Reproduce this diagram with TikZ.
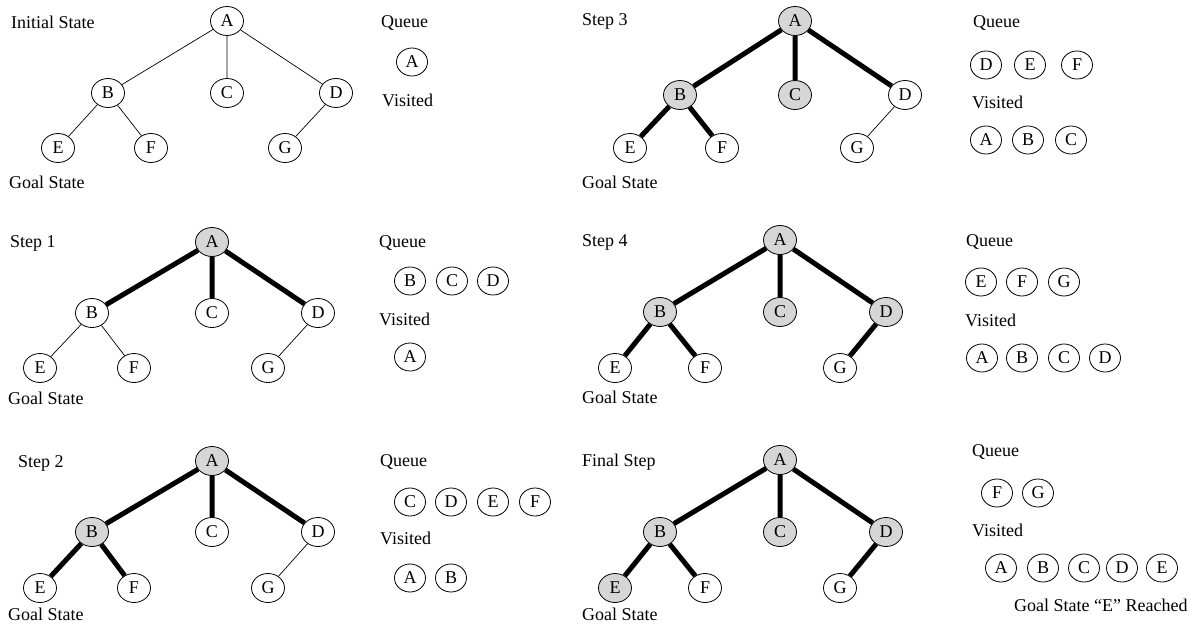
\documentclass[tikz,border=0pt]{standalone}
\usepackage{fontspec}
\setmainfont{Liberation Serif}
\usetikzlibrary{shapes.geometric}
\begin{document}
\begin{tikzpicture}[x=1pt,y=-1pt,
  every node/.style={font=\fontsize{18}{21}\selectfont},
  lbl/.style={anchor=west,inner sep=0pt},
  tn/.style={ellipse,draw,line width=0.8pt,fill=white,inner sep=0pt,minimum width=33pt,minimum height=29pt},
  seen/.style={fill=black!16},
  qn/.style={ellipse,draw,line width=0.8pt,inner sep=0pt,minimum width=31pt,minimum height=28pt},
  lt/.style={line width=0.7pt},
  hv/.style={line width=5pt}]
\useasboundingbox (0,0) rectangle (1194,624);

% ---------- Initial State ----------
\node[lbl] (l0) at (11,22) {Initial State};
\node[lbl] (g0) at (9,182) {Goal State};
\node[tn] (a0) at (227,21) {A};
\node[tn] (b0) at (108,93) {B};
\node[tn] (c0) at (227,93) {C};
\node[tn] (d0) at (336,93) {D};
\node[tn] (e0) at (58,148) {E};
\node[tn] (f0) at (151,148) {F};
\node[tn] (h0) at (285,148) {G};
\draw[lt] (a0)--(b0) (a0)--(c0) (a0)--(d0) (b0)--(e0) (b0)--(f0) (d0)--(h0);
\node[lbl] (q0) at (381,23) {Queue};
\node[qn] (q0a) at (412,62) {A};
\node[lbl] (v0) at (382,100) {Visited};

% ---------- Step 1 ----------
\node[lbl] (l1) at (10,243) {Step 1};
\node[lbl] (g1) at (8,398) {Goal State};
\node[tn,seen] (a1) at (212,242) {A};
\node[tn] (b1) at (92,313) {B};
\node[tn] (c1) at (212,313) {C};
\node[tn] (d1) at (318,313) {D};
\node[tn] (e1) at (40,368) {E};
\node[tn] (f1) at (134,368) {F};
\node[tn] (h1) at (268,368) {G};
\draw[hv] (a1)--(b1) (a1)--(c1) (a1)--(d1);
\draw[lt] (b1)--(e1) (b1)--(f1) (d1)--(h1);
\node[lbl] (q1) at (379,243) {Queue};
\node[qn] (q1b) at (410,281) {B};
\node[qn] (q1c) at (452,281) {C};
\node[qn] (q1d) at (493,281) {D};
\node[lbl] (v1) at (379,319) {Visited};
\node[qn] (v1a) at (410,357) {A};

% ---------- Step 2 ----------
\node[lbl] (l2) at (18,463) {Step 2};
\node[lbl] (g2) at (8,614) {Goal State};
\node[tn,seen] (a2) at (212,461) {A};
\node[tn,seen] (b2) at (92,532) {B};
\node[tn] (c2) at (212,532) {C};
\node[tn] (d2) at (318,532) {D};
\node[tn] (e2) at (40,588) {E};
\node[tn] (f2) at (134,588) {F};
\node[tn] (h2) at (268,588) {G};
\draw[hv] (a2)--(b2) (a2)--(c2) (a2)--(d2) (b2)--(e2) (b2)--(f2);
\draw[lt] (d2)--(h2);
\node[lbl] (q2) at (380,462) {Queue};
\node[qn] (q2c) at (410,502) {C};
\node[qn] (q2d) at (451,502) {D};
\node[qn] (q2e) at (493,502) {E};
\node[qn] (q2f) at (535,502) {F};
\node[lbl] (v2) at (380,538) {Visited};
\node[qn] (v2a) at (410,578) {A};
\node[qn] (v2b) at (451,578) {B};

% ---------- Step 3 ----------
\node[lbl] (l3) at (582,21) {Step 3};
\node[lbl] (g3) at (582,182) {Goal State};
\node[tn,seen] (a3) at (795,21) {A};
\node[tn,seen] (b3) at (680,95) {B};
\node[tn,seen] (c3) at (795,95) {C};
\node[tn] (d3) at (905,95) {D};
\node[tn] (e3) at (630,148) {E};
\node[tn] (f3) at (722,148) {F};
\node[tn] (h3) at (857,148) {G};
\draw[hv] (a3)--(b3) (a3)--(c3) (a3)--(d3) (b3)--(e3) (b3)--(f3);
\draw[lt] (d3)--(h3);
\node[lbl] (q3) at (973,23) {Queue};
\node[qn] (q3d) at (986,65) {D};
\node[qn] (q3e) at (1030,65) {E};
\node[qn] (q3f) at (1077,65) {F};
\node[lbl] (v3) at (972,102) {Visited};
\node[qn] (v3a) at (986,140) {A};
\node[qn] (v3b) at (1028,140) {B};
\node[qn] (v3c) at (1071,140) {C};

% ---------- Step 4 ----------
\node[lbl] (l4) at (582,242) {Step 4};
\node[lbl] (g4) at (582,397) {Goal State};
\node[tn,seen] (a4) at (780,240) {A};
\node[tn,seen] (b4) at (660,312) {B};
\node[tn,seen] (c4) at (780,312) {C};
\node[tn,seen] (d4) at (886,312) {D};
\node[tn] (e4) at (615,368) {E};
\node[tn] (f4) at (705,368) {F};
\node[tn] (h4) at (840,368) {G};
\draw[hv] (a4)--(b4) (a4)--(c4) (a4)--(d4) (b4)--(e4) (b4)--(f4) (d4)--(h4);
\node[lbl] (q4) at (966,242) {Queue};
\node[qn] (q4e) at (981,282) {E};
\node[qn] (q4f) at (1022,282) {F};
\node[qn] (q4g) at (1064,282) {G};
\node[lbl] (v4) at (965,320) {Visited};
\node[qn] (v4a) at (982,358) {A};
\node[qn] (v4b) at (1022,358) {B};
\node[qn] (v4c) at (1064,358) {C};
\node[qn] (v4d) at (1105,358) {D};

% ---------- Final Step ----------
\node[lbl] (l5) at (582,462) {Final Step};
\node[lbl] (g5) at (582,614) {Goal State};
\node[tn,seen] (a5) at (780,460) {A};
\node[tn,seen] (b5) at (660,532) {B};
\node[tn,seen] (c5) at (780,532) {C};
\node[tn,seen] (d5) at (886,532) {D};
\node[tn,seen] (e5) at (615,588) {E};
\node[tn] (f5) at (705,588) {F};
\node[tn] (h5) at (840,588) {G};
\draw[hv] (a5)--(b5) (a5)--(c5) (a5)--(d5) (b5)--(e5) (b5)--(f5) (d5)--(h5);
\node[lbl] (q5) at (972,452) {Queue};
\node[qn] (q5f) at (997,493) {F};
\node[qn] (q5g) at (1038,493) {G};
\node[lbl] (v5) at (972,530) {Visited};
\node[qn] (v5a) at (1001,568) {A};
\node[qn] (v5b) at (1043,568) {B};
\node[qn] (v5c) at (1084,568) {C};
\node[qn] (v5d) at (1122,568) {D};
\node[qn] (v5e) at (1162,568) {E};
\node[lbl] (r5) at (1014,605) {Goal State “E” Reached};
\end{tikzpicture}
\end{document}
